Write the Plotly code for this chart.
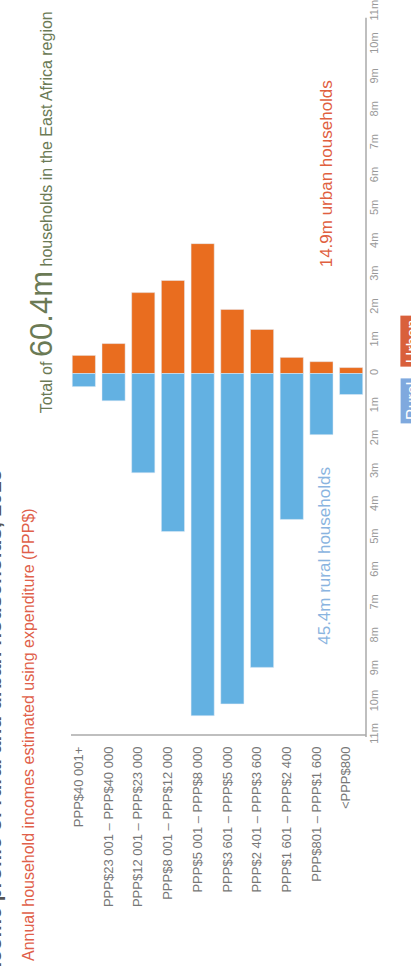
import plotly.graph_objects as go

# Income bands, from highest to lowest
bands = [
    "PPP$40 001+",
    "PPP$23 001 – PPP$40 000",
    "PPP$12 001 – PPP$23 000",
    "PPP$8 001 – PPP$12 000",
    "PPP$5 001 – PPP$8 000",
    "PPP$3 601 – PPP$5 000",
    "PPP$2 401 – PPP$3 600",
    "PPP$1 601 – PPP$2 400",
    "PPP$801 – PPP$1 600",
    "<PPP$800",
]

# Households per band, millions
urban = [0.55, 0.91, 2.46, 2.83, 3.95, 1.95, 1.34, 0.49, 0.36, 0.18]
rural = [0.40, 0.83, 3.02, 4.81, 10.41, 10.05, 8.94, 4.44, 1.86, 0.64]

tick_vals = list(range(-11, 12))
tick_text = [("0" if v == 0 else f"{abs(v)}m") for v in tick_vals]

URBAN_C = "#E96D1F"
RURAL_C = "#63B1E2"
NARROW = "Liberation Sans Narrow, Arial Narrow, Liberation Sans, sans-serif"

W, H = 411, 966
L, R, T, B = 69, 45, 0, 223
plot_w, plot_h = W - L - R, H - T - B


def px(x):
    return (x - L) / plot_w


def py(y):
    return (H - B - y) / plot_h


fig = go.Figure()
fig.add_bar(x=bands, y=urban, marker_color=URBAN_C, name="Urban")
fig.add_bar(x=bands, y=[-v for v in rural], marker_color=RURAL_C, name="Rural")

fig.update_layout(
    width=W, height=H,
    margin=dict(l=L, r=R, t=T, b=B),
    barmode="relative",
    bargap=0.22,
    showlegend=False,
    plot_bgcolor="white",
    paper_bgcolor="white",
    font=dict(family=NARROW, color="#777"),
    xaxis=dict(
        tickangle=-90, showgrid=False, zeroline=False, showline=False,
        ticks="", tickfont=dict(size=13, color="#777"),
        ticklabelshift=-5,
    ),
    yaxis=dict(
        range=[-11.24, 11.27], side="right", tickvals=tick_vals,
        ticktext=tick_text, tickangle=-90, showgrid=False, zeroline=False,
        showline=False, ticks="", tickfont=dict(size=11, color="#999"),
        ticklabeloverflow="allow",
    ),
)

# Axis rules
fig.add_shape(type="line", xref="paper", yref="y", x0=1, x1=1,
              y0=-11.06, y1=10.82, line=dict(color="#aaa", width=1.5))
fig.add_shape(type="line", xref="paper", yref="y", x0=px(71), x1=1,
              y0=-11.0, y1=-11.0, line=dict(color="#aaa", width=1.5))

# Headings
fig.add_annotation(
    xref="paper", yref="paper", x=px(-6), y=py(820),
    text="<b>Annual household income profile of rural and urban households, 2015</b>",
    textangle=-90, showarrow=False, font=dict(size=21, color="#555", family=NARROW),
    xanchor="center", yanchor="middle",
)
fig.add_annotation(
    xref="paper", yref="paper", x=px(28), y=py(735),
    text="Annual household incomes estimated using expenditure (PPP$)",
    textangle=-90, showarrow=False, font=dict(size=16, color="#E0604A", family=NARROW),
    xanchor="center", yanchor="middle",
)
fig.add_annotation(
    xref="paper", yref="paper", x=px(41), y=py(210),
    text="Total of <span style='font-size:31px'>60.4m</span> households in the East Africa region",
    textangle=-90, showarrow=False, font=dict(size=16, color="#6B7A55", family=NARROW),
    xanchor="center", yanchor="middle",
)

# Series totals
fig.add_annotation(
    xref="paper", yref="paper", x=px(326), y=py(172),
    text="14.9m urban households", textangle=-90, showarrow=False,
    font=dict(size=17, color="#E0603F", family=NARROW),
    xanchor="center", yanchor="middle",
)
fig.add_annotation(
    xref="paper", yref="paper", x=px(325), y=py(555),
    text="45.4m rural households", textangle=-90, showarrow=False,
    font=dict(size=17, color="#8AB4E0", family=NARROW),
    xanchor="center", yanchor="middle",
)

# Key
fig.add_annotation(
    xref="paper", yref="paper", x=px(400), y=py(340),
    text="Urban", textangle=-90, showarrow=False,
    font=dict(size=16, color="white", family=NARROW),
    bgcolor="#D9603B", borderpad=3, xanchor="left", yanchor="middle",
)
fig.add_annotation(
    xref="paper", yref="paper", x=px(400), y=py(400),
    text="Rural", textangle=-90, showarrow=False,
    font=dict(size=16, color="white", family=NARROW),
    bgcolor="#7FA9DE", borderpad=3, xanchor="left", yanchor="middle",
)

fig.write_html("out.html")
